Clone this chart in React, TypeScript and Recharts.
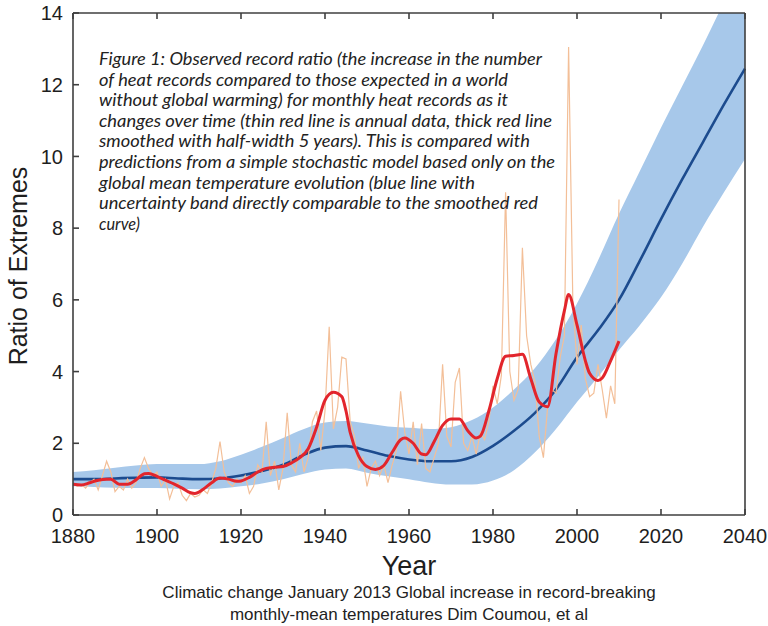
import React from 'react';
import { ComposedChart, Area, Line, XAxis, YAxis } from 'recharts';

// Observed record ratio, one value per year from 1880
const annualStart = 1880;
const annualRatio = [
  0.9, 0.8, 0.85, 0.75, 0.9, 1.0, 0.7, 1.1, 1.5, 1.2,
  0.65, 0.8, 0.7, 1.0, 0.75, 0.9, 1.3, 1.6, 1.3, 1.1,
  1.2, 0.8, 1.0, 0.45, 0.8, 0.9, 0.55, 0.4, 0.6, 0.5,
  0.55, 0.7, 0.6, 0.9, 1.3, 2.05, 1.2, 0.9, 0.8, 1.0,
  0.9, 1.1, 0.6, 0.8, 1.4, 1.2, 2.6, 1.1, 1.5, 0.7,
  1.3, 2.85, 1.4, 1.2, 2.0, 1.2, 1.6, 2.6, 2.9, 1.8,
  2.9, 5.25, 2.4, 3.0, 4.4, 4.35, 2.6, 2.2, 1.3, 1.6,
  0.8, 1.3, 1.5, 1.1, 1.4, 0.9, 1.4, 1.8, 3.45, 2.3,
  1.7, 2.6, 1.4, 2.55, 1.3, 1.2, 1.6, 2.0, 4.2, 2.2,
  1.9, 3.7, 4.1, 2.0, 1.8, 2.2, 1.7, 2.3, 2.1, 2.6,
  3.6, 3.1, 3.9, 9.0, 4.0, 3.2, 3.5, 7.45, 5.0, 4.2,
  3.7, 2.2, 1.6, 3.0, 3.5, 3.4, 4.4, 5.0, 13.05, 6.0,
  4.2, 5.3, 3.8, 3.3, 3.4, 4.2, 3.5, 2.7, 3.6, 3.1,
  8.8,
];

// Smoothed record ratio (half-width 5 years)
const smoothYears = [
  1880, 1882, 1884, 1886, 1888, 1889, 1891, 1893, 1895, 1897, 1898, 1900,
  1902, 1904, 1906, 1908, 1909, 1911, 1913, 1915, 1917, 1919, 1920, 1922,
  1924, 1926, 1928, 1930, 1932, 1934, 1936, 1938, 1940, 1942, 1944, 1945,
  1946, 1948, 1950, 1952, 1954, 1956, 1958, 1959, 1961, 1963, 1964, 1966,
  1968, 1970, 1972, 1974, 1976, 1977, 1979, 1981, 1983, 1985, 1987, 1989,
  1991, 1993, 1995, 1997, 1998, 2000, 2002, 2003, 2005, 2006, 2008, 2010,
];
const smoothRatio = [
  0.86, 0.84, 0.9, 0.97, 1.0, 1.0, 0.86, 0.86, 0.98, 1.15, 1.16, 1.08,
  0.97, 0.87, 0.75, 0.62, 0.6, 0.72, 0.9, 1.03, 1.0, 0.94, 0.95, 1.05,
  1.2, 1.3, 1.33, 1.35, 1.45, 1.6, 1.85, 2.45, 3.2, 3.42, 3.3, 2.9,
  2.3, 1.65, 1.35, 1.27, 1.38, 1.75, 2.1, 2.15, 2.0, 1.7, 1.68, 2.05,
  2.5, 2.68, 2.68, 2.35, 2.15, 2.2, 2.9, 3.8, 4.43, 4.45, 4.48, 3.8,
  3.15, 3.02, 4.5, 5.7, 6.15, 5.3, 4.3, 3.95, 3.75, 3.82, 4.3, 4.85,
];

// Stochastic model: mean and uncertainty band
const modelYears = [
  1880, 1885, 1890, 1895, 1900, 1905, 1910, 1915, 1920, 1925, 1930,
  1935, 1940, 1945, 1950, 1955, 1960, 1965, 1970, 1975, 1980, 1985,
  1990, 1995, 2000, 2005, 2010, 2015, 2020, 2025, 2030, 2035, 2040,
];
const modelMean = [
  1.0, 1.0, 1.02, 1.04, 1.05, 1.02, 1.0, 1.02, 1.1, 1.23, 1.4,
  1.68, 1.88, 1.92, 1.8, 1.65, 1.55, 1.5, 1.5, 1.62, 1.93, 2.35,
  2.85, 3.5, 4.4, 5.15, 6.0, 7.1, 8.25, 9.35, 10.4, 11.45, 12.45,
];
const bandLow = [
  0.8, 0.78, 0.76, 0.75, 0.75, 0.73, 0.72, 0.74, 0.8, 0.88, 1.0,
  1.15, 1.27, 1.3, 1.18, 1.08, 1.0, 0.9, 0.85, 0.85, 0.96, 1.25,
  1.75, 2.4, 3.15, 3.85, 4.6, 5.3, 6.07, 7.0, 8.04, 9.0, 9.93,
];
const bandHigh = [
  1.2, 1.25, 1.32, 1.38, 1.42, 1.42, 1.42, 1.5, 1.68, 1.9, 2.15,
  2.4, 2.58, 2.62, 2.55, 2.47, 2.43, 2.4, 2.45, 2.65, 3.0, 3.5,
  4.1, 4.9, 5.9, 7.1, 8.4, 9.6, 10.8, 11.95, 13.1, 14.3, 15.4,
];

const yearTicks = [1880, 1900, 1920, 1940, 1960, 1980, 2000, 2020, 2040];
const ratioTicks = [0, 2, 4, 6, 8, 10, 12, 14];

const noteLines = [
  'Figure 1: Observed record ratio (the increase in the number',
  'of heat records compared to those expected in a world',
  'without global warming) for monthly heat records as it',
  'changes over time (thin red line is annual data, thick red line',
  'smoothed with half-width 5 years). This is compared with',
  'predictions from a simple stochastic model based only on the',
  'global mean temperature evolution (blue line with',
  'uncertainty band directly comparable to the smoothed red',
  'curve)',
];
const noteLineEnds = [542, 508, 508, 552, 530, 555, 475, 538, 140];

const captionLines = [
  'Climatic change January 2013 Global increase in record-breaking',
  'monthly-mean temperatures Dim Coumou, et al',
];

type Row = {
  year: number;
  annual?: number;
  smooth?: number;
  mean?: number;
  band?: [number, number];
};

const rowsByYear = new Map<number, Row>();
const rowFor = (year: number): Row => {
  let r = rowsByYear.get(year);
  if (!r) {
    r = { year };
    rowsByYear.set(year, r);
  }
  return r;
};
annualRatio.forEach((v, i) => {
  rowFor(annualStart + i).annual = v;
});
smoothYears.forEach((y, i) => {
  rowFor(y).smooth = smoothRatio[i];
});
modelYears.forEach((y, i) => {
  const r = rowFor(y);
  r.mean = modelMean[i];
  r.band = [bandLow[i], bandHigh[i]];
});
const data = [...rowsByYear.values()].sort((a, b) => a.year - b.year);

const FRAME = '#3f3f3f';
const SANS = '"Liberation Sans", Arial, Helvetica, sans-serif';
const TICK_LEN = 6;
const TICK_W = 1.6;

// Ticks point into the plot box, labels sit outside it
const BottomTick = ({ x, y, payload }: any) => (
  <g>
    <line x1={x} x2={x} y1={y} y2={y - TICK_LEN} stroke={FRAME} strokeWidth={TICK_W} />
    <text x={x} y={y + 28} textAnchor="middle" fontFamily={SANS} fontSize={20} fill="#1e1e1e">
      {payload.value}
    </text>
  </g>
);
const LeftTick = ({ x, y, payload }: any) => (
  <g>
    <line x1={x} x2={x + TICK_LEN} y1={y} y2={y} stroke={FRAME} strokeWidth={TICK_W} />
    <text x={x - 10} y={y} dy="0.36em" textAnchor="end" fontFamily={SANS} fontSize={20} fill="#1e1e1e">
      {payload.value}
    </text>
  </g>
);
const TopTick = ({ x, y }: any) => (
  <line x1={x} x2={x} y1={y} y2={y + TICK_LEN} stroke={FRAME} strokeWidth={TICK_W} />
);
const RightTick = ({ x, y }: any) => (
  <line x1={x} x2={x - TICK_LEN} y1={y} y2={y} stroke={FRAME} strokeWidth={TICK_W} />
);

export default function App() {
  const frameLine = { stroke: FRAME, strokeWidth: 1.6 };
  return (
    <div style={{ position: 'absolute', left: 0, top: 0, width: 768, height: 626, background: '#fff' }}>
      <ComposedChart
        width={768}
        height={626}
        data={data}
        margin={{ top: 12, right: 22, bottom: 81, left: 13 }}
      >
        <XAxis
          dataKey="year"
          type="number"
          domain={[1880, 2040]}
          ticks={yearTicks}
          height={30}
          tickSize={0}
          tickMargin={0}
          tickLine={false}
          tick={<BottomTick />}
          axisLine={frameLine}
        />
        <XAxis
          xAxisId="top"
          orientation="top"
          dataKey="year"
          type="number"
          domain={[1880, 2040]}
          ticks={yearTicks}
          height={1}
          tickSize={0}
          tickMargin={0}
          tickLine={false}
          tick={<TopTick />}
          axisLine={frameLine}
        />
        <YAxis
          type="number"
          domain={[0, 14]}
          ticks={ratioTicks}
          allowDataOverflow
          width={60}
          tickSize={0}
          tickMargin={0}
          tickLine={false}
          tick={<LeftTick />}
          axisLine={frameLine}
        />
        <YAxis
          yAxisId="right"
          orientation="right"
          type="number"
          domain={[0, 14]}
          ticks={ratioTicks}
          width={1}
          tickSize={0}
          tickMargin={0}
          tickLine={false}
          tick={<RightTick />}
          axisLine={frameLine}
        />
        <Area
          dataKey="band"
          type="monotone"
          stroke="none"
          fill="#a7c8ea"
          fillOpacity={1}
          connectNulls
          isAnimationActive={false}
        />
        <Line
          dataKey="mean"
          type="monotone"
          stroke="#1c4b8e"
          strokeWidth={2.6}
          dot={false}
          connectNulls
          isAnimationActive={false}
        />
        <Line
          dataKey="annual"
          type="linear"
          stroke="#f3bf98"
          strokeWidth={1.2}
          dot={false}
          connectNulls
          isAnimationActive={false}
        />
        <Line
          dataKey="smooth"
          type="monotone"
          stroke="#e2252c"
          strokeWidth={3}
          dot={false}
          connectNulls
          isAnimationActive={false}
        />
      </ComposedChart>
      <svg
        width={768}
        height={626}
        style={{ position: 'absolute', left: 0, top: 0, pointerEvents: 'none' }}
      >
        {noteLines.map((line, i) => (
          <text
            key={i}
            x={99}
            y={65 + i * 20.6}
            textLength={noteLineEnds[i] - 99}
            lengthAdjust="spacingAndGlyphs"
            fontFamily='Lato, "Open Sans", sans-serif'
            fontStyle="italic"
            fontSize={16.5}
            fill="#222"
          >
            {line}
          </text>
        ))}
        <text
          transform="translate(27 266) rotate(-90)"
          textAnchor="middle"
          fontFamily={SANS}
          fontSize={25}
          fill="#1e1e1e"
        >
          Ratio of Extremes
        </text>
        <text x={409} y={575} textAnchor="middle" fontFamily={SANS} fontSize={27} fill="#1e1e1e">
          Year
        </text>
        {captionLines.map((line, i) => (
          <text
            key={i}
            x={409}
            y={598 + i * 22}
            textAnchor="middle"
            fontFamily={SANS}
            fontSize={17}
            fill="#222"
          >
            {line}
          </text>
        ))}
      </svg>
    </div>
  );
}
